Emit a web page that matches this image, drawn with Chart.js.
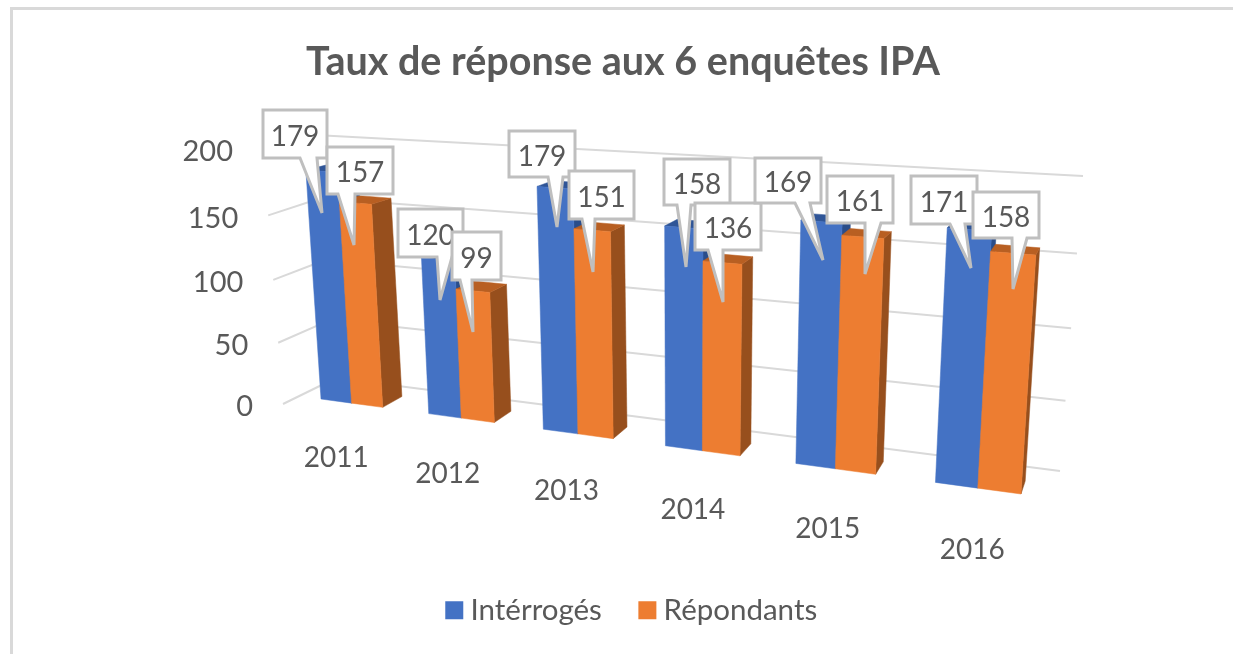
<!DOCTYPE html>
<html><head><meta charset="utf-8">
<style>
html,body{margin:0;padding:0;background:#fff;width:1233px;height:654px;overflow:hidden}
#frame{position:absolute;left:10px;top:7px;right:0;bottom:-5px;border-top:3px solid #d9d9d9;border-left:3px solid #d9d9d9}
canvas{position:absolute;left:0;top:0;filter:blur(.45px)}
</style>
<script src="https://cdn.jsdelivr.net/npm/chart.js@4"></script>
</head><body>
<div id="frame"></div>
<canvas id="c" width="1233" height="654"></canvas>
<script>
const categories = ['2011','2012','2013','2014','2015','2016'];
const interroges = [179,120,179,158,169,171];
const repondants = [157,99,151,136,161,158];
const yTicks = [0,50,100,150,200];
const yMax = 200;

// callout layout: box left, top, right, bottom, tail base start, tail base end, tip x, tip y
const calloutsBlue = [
 [263,110,327,158,300,317,322,213],[398,209,463,257,437,452,440,300],[509,131,575,177,548,563,557,227],
 [664,159,730,205,677,691,686,267],[755,158,821,203,795,810,823,260],[911,176,977,224,950,965,971,268]];
const calloutsOrange = [
 [327,147,393,194,338,355,354,245],[452,232,501,280,460,472,473,332],[569,171,634,219,582,595,593,272],
 [695,203,761,250,708,723,723,302],[827,176,893,223,865,881,865,274],[973,192,1039,238,1012,1027,1013,289]];

function homography(q){
  const [x0,y0]=q[0],[x1,y1]=q[1],[x2,y2]=q[2],[x3,y3]=q[3];
  const dx1=x1-x2,dx2=x3-x2,dy1=y1-y2,dy2=y3-y2,sx=x0-x1+x2-x3,sy=y0-y1+y2-y3;
  const den=dx1*dy2-dx2*dy1,g=(sx*dy2-dx2*sy)/den,h=(dx1*sy-sx*dy1)/den;
  const a=x1-x0+g*x1,b=x3-x0+h*x3,d=y1-y0+g*y1,e=y3-y0+h*y3;
  return (u,v)=>{const w=g*u+h*v+1;return [(a*u+b*v+x0)/w,(d*u+e*v+y0)/w];};
}
const frontPlane = homography([[321,399],[1021,494],[1040,188],[304,142]]);
const backWall   = homography([[336,378],[1060,471],[1083,176],[315,135]]);
const sideEdge0=[283,404], sideEdge1=[263,149];
const depthVP=[1200,-55], depth=0.0235;
const toBack=p=>[p[0]+(depthVP[0]-p[0])*depth,p[1]+(depthVP[1]-p[1])*depth];
const TXT='#595959', GRID='#d9d9d9', CALL='#bfbfbf';
const FONT='Lato, sans-serif';

function poly(ctx,pts,fill){
  ctx.beginPath();pts.forEach((p,i)=>i?ctx.lineTo(p[0],p[1]):ctx.moveTo(p[0],p[1]));ctx.closePath();
  ctx.fillStyle=fill;ctx.fill();ctx.strokeStyle=fill;ctx.lineWidth=.5;ctx.stroke();
}
function line(ctx,a,b){ctx.beginPath();ctx.moveTo(a[0],a[1]);ctx.lineTo(b[0],b[1]);ctx.stroke();}

const perspective3D={
  id:'perspective3D',
  afterLayout(chart){const d=12;chart.legend.left+=d;chart.legend.right+=d;},
  beforeDatasetsDraw(chart){
    const ctx=chart.ctx,ys=chart.scales.y;
    const m0=chart.getDatasetMeta(0).data,m1=chart.getDatasetMeta(1).data;
    const L=m0[0].x-m0[0].width/2,R=m1[m1.length-1].x+m1[m1.length-1].width/2;
    const U=px=>(px-L)/(R-L),V=py=>(ys.bottom-py)/(ys.bottom-ys.top);
    ctx.save();
    // gridlines
    ctx.strokeStyle=GRID;ctx.lineWidth=2;
    yTicks.forEach(t=>{
      const v=V(ys.getPixelForValue(t));
      const a=backWall(0,v),b=backWall(1,v);
      line(ctx,a,b);
      const s=(backWall(0,0)[1]-a[1])/(backWall(0,0)[1]-backWall(0,1)[1]);
      const f=[sideEdge0[0]+(sideEdge1[0]-sideEdge0[0])*s,sideEdge0[1]+(sideEdge1[1]-sideEdge0[1])*s];
      line(ctx,f,a);
      ctx.fillStyle=TXT;ctx.font='29px '+FONT;ctx.textAlign='right';ctx.textBaseline='middle';
      ctx.fillText(String(t),f[0]-30,f[1]+3);
    });
    // bars
    const bar=(el,cFront,cTop,cSide)=>{
      const l=U(el.x-el.width/2),r=U(el.x+el.width/2),v=V(el.y);
      const bl=frontPlane(l,0),br=frontPlane(r,0),tl=frontPlane(l,v),tr=frontPlane(r,v);
      poly(ctx,[br,toBack(br),toBack(tr),tr],cSide);
      poly(ctx,[tl,tr,toBack(tr),toBack(tl)],cTop);
      poly(ctx,[bl,br,tr,tl],cFront);
    };
    categories.forEach((c,i)=>{
      bar(m0[i],'#4472c4','#2f5597','#2a4d8a');
      bar(m1[i],'#ed7d31','#b85f22','#974f1d');
    });
    // category labels
    ctx.fillStyle=TXT;ctx.font='28px '+FONT;ctx.textAlign='center';ctx.textBaseline='middle';
    categories.forEach((c,i)=>{
      const u=U(m1[i].x-m1[i].width/2),p=frontPlane(u,0);
      ctx.fillText(c,p[0]-16+11*u,p[1]+54+8*u);
    });
    // callouts
    const callout=(b,val)=>{
      const [x0,y0,x1,y1,t0,t1,tx,ty]=b;
      ctx.beginPath();ctx.moveTo(x0,y0);ctx.lineTo(x1,y0);ctx.lineTo(x1,y1);ctx.lineTo(t1,y1);ctx.lineTo(tx,ty);ctx.lineTo(t0,y1);ctx.lineTo(x0,y1);ctx.closePath();
      ctx.fillStyle='#fff';ctx.fill();ctx.strokeStyle=CALL;ctx.lineWidth=3;ctx.lineJoin='miter';ctx.miterLimit=3;ctx.stroke();
      ctx.fillStyle=TXT;ctx.font='28px '+FONT;ctx.textAlign='center';ctx.textBaseline='middle';
      ctx.fillText(String(val),(x0+x1)/2,(y0+y1)/2+2.5);
    };
    categories.forEach((c,i)=>{
      callout(calloutsBlue[i],interroges[i]);
      callout(calloutsOrange[i],repondants[i]);
    });
    ctx.restore();
    return false;
  }
};

new Chart(document.getElementById('c'),{
  type:'bar',
  data:{labels:categories,datasets:[
    {label:'Intérrogés',data:interroges,backgroundColor:'#4472c4'},
    {label:'Répondants',data:repondants,backgroundColor:'#ed7d31'}]},
  options:{
    responsive:false,animation:false,devicePixelRatio:1,
    layout:{padding:{left:13,top:31,right:0,bottom:19}},
    datasets:{bar:{categoryPercentage:.58,barPercentage:1}},
    scales:{x:{display:false},y:{display:false,min:0,max:yMax}},
    plugins:{
      tooltip:{enabled:false},
      title:{display:true,text:'Taux de réponse aux 6 enquêtes IPA',color:TXT,font:{family:'Lato',size:39.5,weight:'bold'},padding:{top:8,bottom:8}},
      legend:{position:'bottom',labels:{color:TXT,font:{family:'Lato',size:29.5},usePointStyle:true,pointStyle:'rect',boxWidth:3,boxHeight:18,padding:44}}
    }
  },
  plugins:[perspective3D]
});
</script>
</body></html>
